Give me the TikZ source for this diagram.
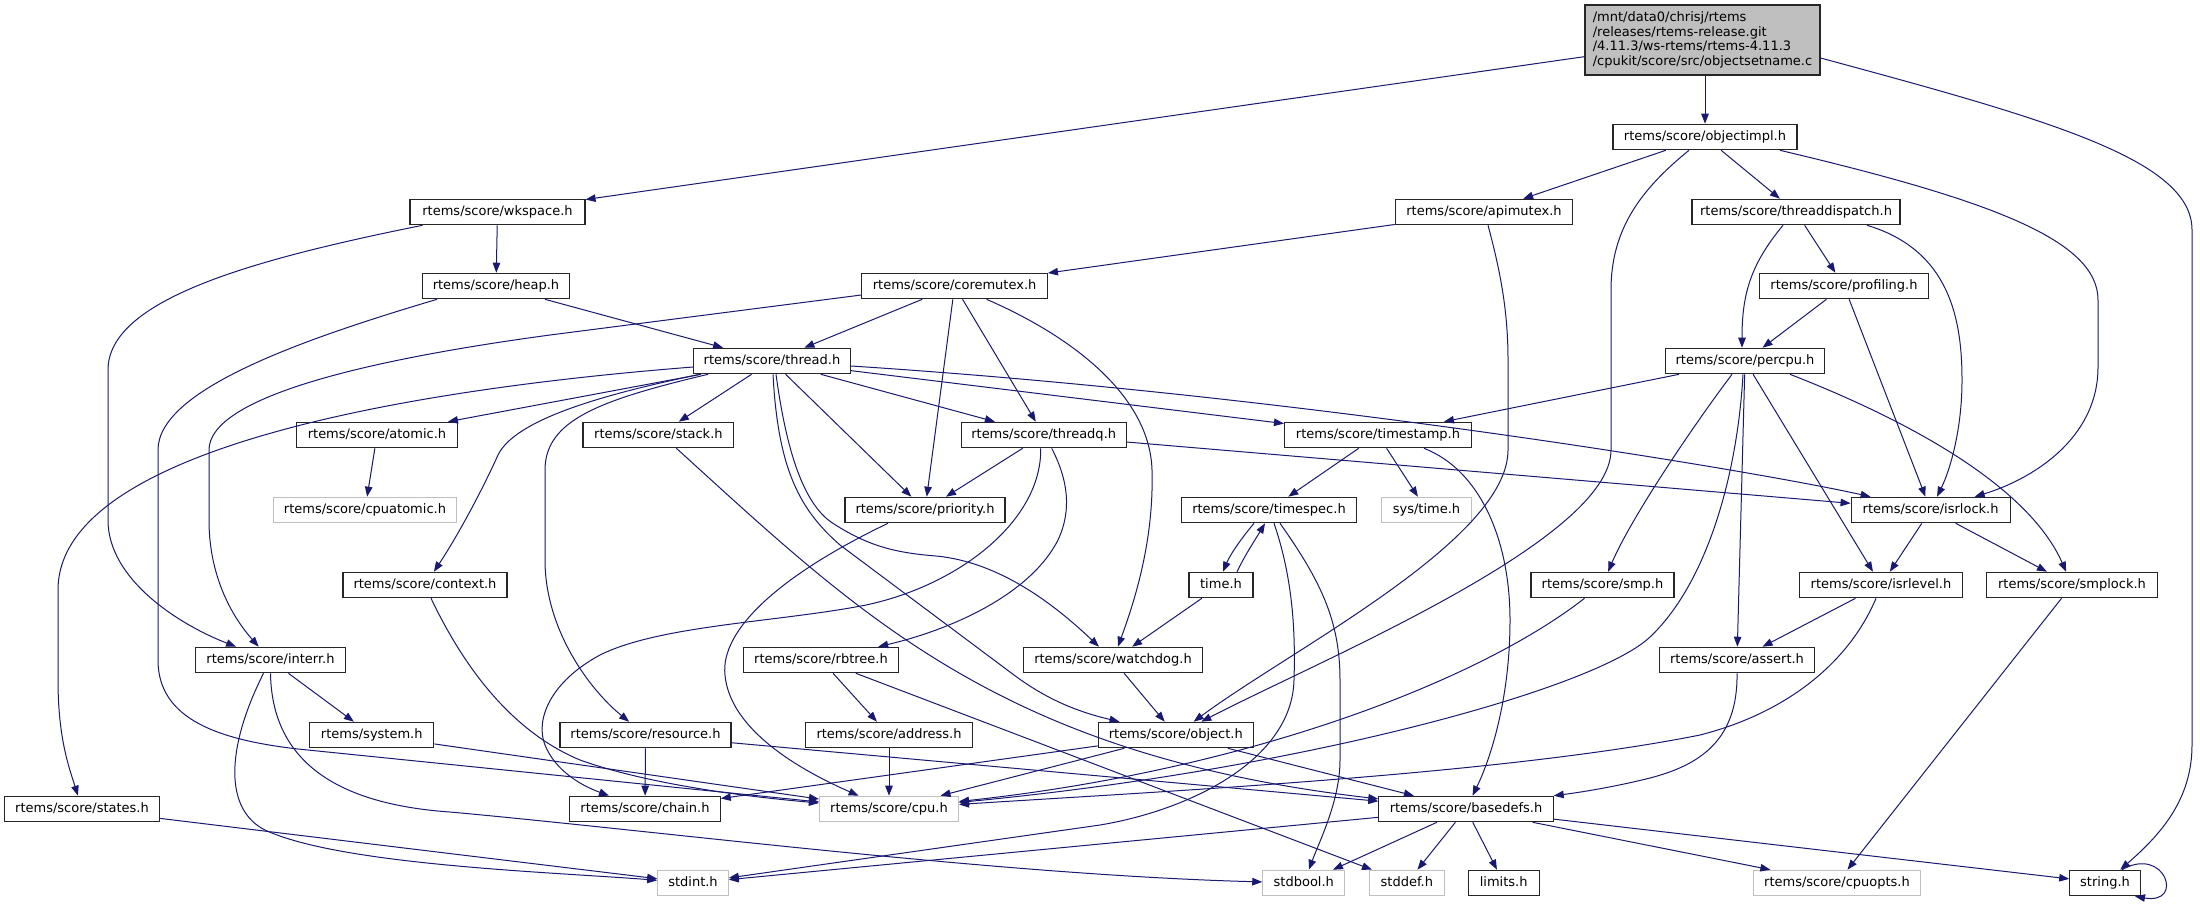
\documentclass[tikz,border=0pt]{standalone}
\usepackage{fontspec}
\setmainfont{DejaVu Sans}
\usetikzlibrary{arrows.meta}
\definecolor{edgec}{HTML}{191970}
\definecolor{rootfill}{HTML}{BFBFBF}
\definecolor{greyline}{HTML}{BFBFBF}
\begin{document}
\begin{tikzpicture}[x=1pt,y=-1pt,
  box/.style={draw=black!85, fill=white, line width=1.1pt, minimum height=25.5pt, inner sep=0pt,
    text height=9.5pt, text depth=3pt, font=\fontsize{13}{15}\selectfont},
  gbox/.style={box, draw=greyline},
  rootbox/.style={draw=black!85, fill=rootfill, line width=1.1pt, inner xsep=7pt, inner ysep=0pt,
    minimum width=235pt, minimum height=70pt, align=left, font=\fontsize{13}{14.8}\selectfont},
  e/.style={draw=edgec, line width=1pt, -{Triangle[length=10pt,width=7.5pt]}}]
\fill[white] (0,0) rectangle (2200,903);
\useasboundingbox (0,0) rectangle (2200,903);
% nodes
\node[rootbox] (root) at (1702.5,40) {/mnt/data0/chrisj/rtems\\/releases/rtems-release.git\\/4.11.3/ws-rtems/rtems-4.11.3\\/cpukit/score/src/objectsetname.c};
\node[box, minimum width=184pt] (objectimpl) at (1705,137) {rtems/score/objectimpl.h};
\node[box, minimum width=175pt] (wkspace) at (497.5,212) {rtems/score/wkspace.h};
\node[box, minimum width=177.5pt] (apimutex) at (1484,212) {rtems/score/apimutex.h};
\node[box, minimum width=208pt] (threaddispatch) at (1796,212) {rtems/score/threaddispatch.h};
\node[box, minimum width=146.6pt] (heap) at (496,286) {rtems/score/heap.h};
\node[box, minimum width=185.6pt] (coremutex) at (954.6,286) {rtems/score/coremutex.h};
\node[box, minimum width=168.4pt] (profiling) at (1844,286) {rtems/score/profiling.h};
\node[box, minimum width=157pt] (thread) at (772,361) {rtems/score/thread.h};
\node[box, minimum width=159pt] (percpu) at (1745,361) {rtems/score/percpu.h};
\node[box, minimum width=160.3pt] (atomic) at (377,435) {rtems/score/atomic.h};
\node[box, minimum width=150.8pt] (stack) at (658.4,435) {rtems/score/stack.h};
\node[box, minimum width=165.2pt] (threadq) at (1043.7,435) {rtems/score/threadq.h};
\node[box, minimum width=187pt] (timestamp) at (1378,435) {rtems/score/timestamp.h};
\node[gbox, minimum width=183pt] (cpuatomic) at (365,510) {rtems/score/cpuatomic.h};
\node[box, minimum width=160pt] (priority) at (925,510) {rtems/score/priority.h};
\node[box, minimum width=175pt] (timespec) at (1269,510) {rtems/score/timespec.h};
\node[gbox, minimum width=90.5pt] (systime) at (1426.5,510) {sys/time.h};
\node[box, minimum width=159pt] (isrlock) at (1930.6,510) {rtems/score/isrlock.h};
\node[box, minimum width=164pt] (context) at (425,585) {rtems/score/context.h};
\node[box, minimum width=64pt] (timeh) at (1221,585) {time.h};
\node[box, minimum width=143pt] (smp) at (1602.5,585) {rtems/score/smp.h};
\node[box, minimum width=162.7pt] (isrlevel) at (1881,585) {rtems/score/isrlevel.h};
\node[box, minimum width=170.5pt] (smplock) at (2072,585) {rtems/score/smplock.h};
\node[box, minimum width=149.5pt] (interr) at (270.5,660) {rtems/score/interr.h};
\node[box, minimum width=155pt] (rbtree) at (821,660) {rtems/score/rbtree.h};
\node[box, minimum width=179.3pt] (watchdog) at (1113,660) {rtems/score/watchdog.h};
\node[box, minimum width=154.7pt] (assert) at (1737,660) {rtems/score/assert.h};
\node[box, minimum width=124pt] (system) at (371.8,735) {rtems/system.h};
\node[box, minimum width=171pt] (resource) at (645.5,735) {rtems/score/resource.h};
\node[box, minimum width=166.7pt] (address) at (889,735) {rtems/score/address.h};
\node[box, minimum width=155pt] (object) at (1175.8,735) {rtems/score/object.h};
\node[box, minimum width=155.4pt] (states) at (82,809) {rtems/score/states.h};
\node[box, minimum width=150.5pt] (chain) at (645,809) {rtems/score/chain.h};
\node[gbox, minimum width=139pt] (cpu) at (889,809) {rtems/score/cpu.h};
\node[box, minimum width=174.3pt] (basedefs) at (1466,809) {rtems/score/basedefs.h};
\node[gbox, minimum width=70.5pt] (stdint) at (693,883) {stdint.h};
\node[gbox, minimum width=82pt] (stdbool) at (1303.8,883) {stdbool.h};
\node[gbox, minimum width=74.7pt] (stddef) at (1406.8,883) {stddef.h};
\node[box, minimum width=71pt] (limits) at (1503.7,883) {limits.h};
\node[gbox, minimum width=166.6pt] (cpuopts) at (1837,883) {rtems/score/cpuopts.h};
\node[box, minimum width=70.5pt] (string) at (2105,883) {string.h};
% edges
\draw[e] (root) -- (wkspace);
\draw[e] (root.south -| objectimpl.north) -- (objectimpl);
\draw[e] ([yshift=-18pt]root.east) .. controls (2050,120) and (2192,160) .. (2192,230) -- (2192,745) .. controls (2192,800) and (2160,835) .. (string);
\draw[e] ([xshift=17pt]string.north) .. controls (2165,845) and (2185,905) .. ([xshift=30pt]string.south);
\draw[e] (objectimpl) -- (apimutex);
\draw[e] (objectimpl) -- (threaddispatch);
\draw[e] ([xshift=75pt]objectimpl.south) .. controls (1990,200) and (2098,240) .. (2098,300) -- (2098,367) .. controls (2098,440) and (2030,480) .. (isrlock);
\draw[e] ([xshift=-16pt]objectimpl.south) .. controls (1640,190) and (1611,230) .. (1611,290) -- (1611,450) .. controls (1611,540) and (1320,660) .. (object);
\draw[e] (wkspace) -- (heap);
\draw[e] ([xshift=-75pt]wkspace.south) .. controls (250,260) and (108,300) .. (108,370) -- (108,520) .. controls (108,580) and (180,625) .. (interr);
\draw[e] (apimutex) -- (coremutex);
\draw[e] ([xshift=4pt]apimutex.south) .. controls (1500,270) and (1508,310) .. (1508,360) -- (1508,450) .. controls (1508,540) and (1290,650) .. (object);
\draw[e] ([xshift=-13pt]threaddispatch.south) .. controls (1750,265) and (1742,295) .. ([xshift=-3pt]percpu.north);
\draw[e] (threaddispatch) -- (profiling);
\draw[e] ([xshift=71pt]threaddispatch.south) .. controls (1950,250) and (1962,320) .. (1962,380) .. controls (1962,430) and (1950,470) .. (isrlock);
\draw[e] (heap) -- (thread);
\draw[e] ([xshift=-59pt]heap.south) .. controls (300,340) and (158,390) .. (158,450) -- (158,660) .. controls (158,720) and (220,740) .. (298,749) -- (cpu);
\draw[e] (coremutex) -- (thread);
\draw[e] ([yshift=-9pt]coremutex.west) -- (550,335) .. controls (350,362) and (209,400) .. (209,450) -- (209,520) .. controls (209,580) and (235,620) .. (interr);
\draw[e] (coremutex) -- (priority);
\draw[e] (coremutex) -- (threadq);
\draw[e] ([xshift=32pt]coremutex.south) .. controls (1080,340) and (1150,400) .. (1152,470) .. controls (1154,540) and (1135,600) .. (watchdog);
\draw[e] (profiling) -- (percpu);
\draw[e] (profiling) -- (isrlock);
\draw[e] (thread) -- (atomic);
\draw[e] ([yshift=-6pt]thread.west) .. controls (400,390) and (58,450) .. (58,590) -- (58,680) .. controls (58,740) and (70,770) .. (states);
\draw[e] ([xshift=-72pt]thread.south) .. controls (600,395) and (515,420) .. (498,455) .. controls (480,495) and (455,540) .. (context);
\draw[e] ([xshift=-64pt]thread.south) .. controls (600,400) and (545,420) .. (545,470) -- (545,560) .. controls (545,630) and (590,690) .. (resource);
\draw[e] (thread) -- (stack);
\draw[e] ([xshift=1pt]thread.south) .. controls (778,470) and (800,510) .. (840,545) -- (1010,672) .. controls (1040,695) and (1070,710) .. (object);
\draw[e] ([xshift=4pt]thread.south) .. controls (785,440) and (800,500) .. (831,522) .. controls (870,548) and (900,553) .. (936,556) .. controls (1000,562) and (1055,605) .. (watchdog);
\draw[e] (thread) -- (priority);
\draw[e] (thread) -- (threadq);
\draw[e] (thread) -- (timestamp);
\draw[e] ([yshift=-5pt]thread.east) .. controls (1300,395) and (1750,470) .. (isrlock);
\draw[e] (threadq) -- (priority);
\draw[e] ([xshift=8pt]threadq.south) .. controls (1068,480) and (1072,510) .. (1058,540) .. controls (1030,595) and (950,630) .. (rbtree);
\draw[e] ([xshift=-3pt]threadq.south) .. controls (1042,520) and (960,585) .. (866,605) .. controls (780,622) and (660,625) .. (600,655) .. controls (550,682) and (535,720) .. (545,745) .. controls (555,770) and (580,785) .. (chain);
\draw[e] (threadq) -- (isrlock);
\draw[e] (timestamp) -- (timespec);
\draw[e] (timestamp) -- (systime);
\draw[e] ([xshift=46pt]timestamp.south) .. controls (1480,470) and (1510,540) .. (1510,620) .. controls (1510,700) and (1490,760) .. (basedefs);
\draw[e] ([xshift=-15pt]timespec.south) .. controls (1240,540) and (1230,555) .. ([xshift=2pt]timeh.north);
\draw[e] ([xshift=16pt]timeh.north) .. controls (1245,555) and (1255,540) .. ([xshift=-4pt]timespec.south);
\draw[e] (timeh) -- (watchdog);
\draw[e] ([xshift=11pt]timespec.south) .. controls (1320,580) and (1340,620) .. (1340,680) -- (1340,760) .. controls (1340,800) and (1320,840) .. (stdbool);
\draw[e] ([xshift=5pt]timespec.south) .. controls (1290,570) and (1296,620) .. (1294,680) .. controls (1292,760) and (1190,810) .. (1100,825) -- (stdint);
\draw[e] (watchdog) -- (object);
\draw[e] (object) -- (chain);
\draw[e] (object) -- (cpu);
\draw[e] (object) -- (basedefs);
\draw[e] ([xshift=18pt]stack.south) .. controls (860,615) and (1000,755) .. (basedefs);
\draw[e] (resource) -- (chain);
\draw[e] (resource) -- (basedefs);
\draw[e] (rbtree) -- (address);
\draw[e] (rbtree) -- (stddef);
\draw[e] (address) -- (cpu);
\draw[e] ([xshift=-37pt]priority.south) .. controls (780,575) and (720,630) .. (725,675) .. controls (730,730) and (800,770) .. (cpu);
\draw[e] ([xshift=6pt]context.south) .. controls (470,680) and (520,735) .. (580,760) .. controls (650,785) and (750,797) .. (cpu);
\draw[e] (interr) -- (system);
\draw[e] (system) -- (cpu);
\draw[e] (interr.south) .. controls (272,770) and (350,805) .. (450,812) .. controls (650,830) and (1000,875) .. (stdbool);
\draw[e] ([xshift=-7pt]interr.south) .. controls (225,750) and (225,810) .. (265,830) .. controls (340,865) and (550,872) .. (stdint);
\draw[e] (states) -- (stdint);
\draw[e] (basedefs) -- (stdint);
\draw[e] (basedefs) -- (stdbool);
\draw[e] (basedefs) -- (stddef);
\draw[e] (basedefs) -- (limits);
\draw[e] (basedefs) -- (cpuopts);
\draw[e] (basedefs) -- (string);
\draw[e] (smplock) -- (cpuopts);
\draw[e] (isrlock) -- (isrlevel);
\draw[e] (isrlock) -- (smplock);
\draw[e] (isrlevel) -- (assert);
\draw[e] ([xshift=-5pt]isrlevel.south) .. controls (1850,660) and (1790,712) .. (1700,735) .. controls (1500,775) and (1150,792) .. (cpu);
\draw[e] (assert.south) .. controls (1738,740) and (1700,765) .. (1650,778) .. controls (1610,788) and (1575,793) .. (basedefs.north east);
\draw[e] (percpu) -- (timestamp);
\draw[e] ([xshift=-13pt]percpu.south) .. controls (1690,430) and (1630,520) .. (smp);
\draw[e] ([xshift=-2pt]percpu.south) .. controls (1737,480) and (1705,585) .. (1650,637) .. controls (1595,689) and (1300,770) .. (cpu);
\draw[e] (percpu) -- (assert);
\draw[e] (percpu) -- (isrlevel);
\draw[e] ([xshift=45pt]percpu.south) .. controls (1920,425) and (2030,490) .. (smplock);
\draw[e] ([xshift=-18pt]smp.south) .. controls (1480,680) and (1250,770) .. (cpu);
\draw[e] (atomic) -- (cpuatomic);
\end{tikzpicture}
\end{document}
